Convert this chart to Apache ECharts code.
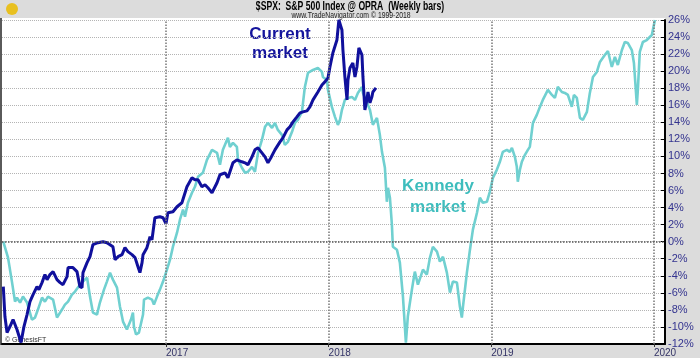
<!DOCTYPE html>
<html><head><meta charset="utf-8">
<script src="https://cdn.jsdelivr.net/npm/echarts@6/dist/echarts.min.js"></script>
<style>html,body{margin:0;padding:0;background:#dcdcdc}#c{width:700px;height:358px}</style>
</head><body><div id="c"></div>
<script>
// Tick labels
const yearTicks = [2017, 2018, 2019, 2020];
const pctTicks = [-12,-10,-8,-6,-4,-2,0,2,4,6,8,10,12,14,16,18,20,22,24,26];

// Kennedy market (teal): decimal year, % change
const kennedyYears = [2016.000,2016.029,2016.054,2016.072,2016.084,2016.103,2016.121,2016.146,2016.176,2016.195,2016.213,2016.238,2016.256,2016.275,2016.306,2016.330,2016.336,2016.361,2016.379,2016.398,2016.422,2016.441,2016.471,2016.502,2016.515,2016.533,2016.551,2016.576,2016.594,2016.619,2016.637,2016.656,2016.674,2016.699,2016.717,2016.736,2016.760,2016.785,2016.797,2016.803,2016.816,2016.834,2016.859,2016.865,2016.889,2016.914,2016.926,2016.945,2016.963,2016.982,2017.006,2017.025,2017.043,2017.068,2017.086,2017.105,2017.117,2017.135,2017.160,2017.178,2017.197,2017.227,2017.252,2017.283,2017.314,2017.332,2017.350,2017.381,2017.393,2017.412,2017.436,2017.443,2017.467,2017.486,2017.504,2017.529,2017.547,2017.566,2017.590,2017.609,2017.627,2017.652,2017.670,2017.688,2017.713,2017.731,2017.750,2017.775,2017.793,2017.811,2017.836,2017.854,2017.873,2017.904,2017.934,2017.959,2017.965,2017.990,2017.996,2018.020,2018.039,2018.057,2018.070,2018.082,2018.100,2018.119,2018.143,2018.162,2018.180,2018.205,2018.211,2018.235,2018.254,2018.272,2018.297,2018.315,2018.328,2018.340,2018.346,2018.358,2018.365,2018.377,2018.389,2018.395,2018.420,2018.438,2018.457,2018.475,2018.487,2018.512,2018.530,2018.549,2018.580,2018.604,2018.623,2018.641,2018.666,2018.684,2018.703,2018.727,2018.746,2018.764,2018.789,2018.807,2018.819,2018.826,2018.850,2018.869,2018.887,2018.912,2018.930,2018.948,2018.973,2018.991,2019.010,2019.034,2019.053,2019.071,2019.096,2019.114,2019.127,2019.145,2019.157,2019.163,2019.176,2019.188,2019.207,2019.225,2019.237,2019.256,2019.280,2019.299,2019.317,2019.348,2019.373,2019.391,2019.409,2019.434,2019.452,2019.471,2019.495,2019.508,2019.526,2019.545,2019.563,2019.588,2019.606,2019.625,2019.649,2019.668,2019.698,2019.717,2019.741,2019.760,2019.778,2019.803,2019.821,2019.840,2019.864,2019.877,2019.895,2019.901,2019.913,2019.932,2019.956,2019.987,2020.006];
const kennedyPct = [0,-1.87,-4.8,-7.03,-6.56,-7.14,-6.44,-7.14,-9.13,-8.9,-7.96,-6.56,-7.03,-6.44,-6.79,-8.9,-9.13,-7.96,-7.38,-7.03,-6.21,-5.85,-5.04,-4.45,-4.22,-6.44,-8.31,-8.55,-7.14,-5.62,-4.68,-3.63,-4.45,-5.39,-7.61,-9.37,-10.3,-9.13,-8.31,-9.95,-10.89,-10.66,-8.55,-6.79,-6.56,-6.79,-7.38,-6.44,-5.62,-4.68,-3.28,-2.11,-0.59,1.05,2.58,3.75,2.93,4.57,5.74,6.44,7.61,8.08,9.6,10.77,10.42,9.02,10.77,12.18,11.12,11.59,11.12,9.6,8.67,8.08,8.2,8.78,8.2,10.42,11.94,13.47,13.93,13.35,13.93,13.11,12.53,11.36,11.71,12.88,13.93,14.29,15.22,18.15,19.79,20.14,20.37,19.91,19.32,18.97,17.8,15.81,14.64,13.7,14.29,15.46,16.63,16.86,16.98,16.63,17.45,18.15,17.45,16.39,15.46,13.7,14.52,12.53,10.54,10.54,8.67,4.68,6.32,5.15,1.99,-0.59,-0.94,-2.46,-6.44,-11.83,-8.78,-5.62,-3.51,-5.04,-3.28,-3.86,-1.87,-0.59,-1.17,-2.34,-1.76,-3.63,-5.97,-4.68,-4.8,-7.61,-8.9,-7.61,-3.63,-0.94,1.41,3.4,5.15,4.57,4.68,5.85,7.49,8.43,9.37,10.54,10.77,10.54,11.01,9.95,8.78,7.03,8.43,9.37,10.19,10.77,11.12,13.93,14.87,15.81,16.63,17.8,17.21,16.86,18.15,17.56,17.45,17.21,15.81,17.21,16.86,14.52,14.29,15.22,17.45,19.32,19.91,21.08,21.9,22.37,20.49,21.66,20.73,22.48,23.42,23.3,22.48,20.96,16.04,17.8,22.25,23.42,23.65,24.24,26.0];

// Current market (dark blue): decimal year, % change
const currentYears = [2016.000,2016.010,2016.023,2016.041,2016.060,2016.084,2016.109,2016.127,2016.146,2016.164,2016.183,2016.207,2016.219,2016.238,2016.256,2016.269,2016.287,2016.306,2016.330,2016.349,2016.367,2016.392,2016.398,2016.428,2016.453,2016.471,2016.484,2016.490,2016.515,2016.533,2016.551,2016.582,2016.613,2016.637,2016.656,2016.674,2016.687,2016.705,2016.730,2016.748,2016.766,2016.791,2016.810,2016.828,2016.840,2016.853,2016.859,2016.883,2016.902,2016.914,2016.932,2016.963,2016.982,2017.000,2017.012,2017.043,2017.068,2017.098,2017.129,2017.160,2017.178,2017.197,2017.221,2017.240,2017.258,2017.283,2017.314,2017.332,2017.363,2017.381,2017.412,2017.436,2017.467,2017.486,2017.504,2017.529,2017.547,2017.566,2017.590,2017.609,2017.627,2017.645,2017.670,2017.682,2017.701,2017.719,2017.744,2017.762,2017.781,2017.805,2017.824,2017.842,2017.867,2017.885,2017.904,2017.934,2017.959,2017.977,2017.996,2018.008,2018.026,2018.051,2018.063,2018.082,2018.088,2018.100,2018.113,2018.119,2018.131,2018.149,2018.162,2018.174,2018.186,2018.205,2018.211,2018.223,2018.235,2018.242,2018.254,2018.266,2018.272,2018.291];
const currentPct = [-5.27,-8.78,-10.66,-9.95,-9.13,-10.3,-11.83,-9.95,-8.55,-7.03,-6.21,-5.27,-5.62,-4.8,-3.86,-4.45,-3.86,-3.51,-4.45,-4.8,-5.04,-4.1,-3.04,-3.04,-3.51,-5.27,-5.39,-3.63,-2.46,-1.76,-0.35,-0.12,0,-0.12,-0.35,-0.59,-2.11,-1.76,-1.52,-0.7,-1.17,-1.52,-1.87,-2.93,-3.63,-2.46,-1.52,-0.7,0.58,0.23,2.81,2.93,2.81,2.11,3.4,3.51,4.1,4.57,6.44,7.49,7.26,7.26,6.44,6.67,6.32,5.74,6.91,7.85,8.08,7.49,9.25,9.6,9.37,9.25,9.02,9.95,10.77,11.01,10.42,9.95,9.25,9.84,10.77,10.77,11.71,12.18,13.11,13.47,14.05,14.64,15.11,15.22,15.34,15.81,16.63,17.56,18.38,18.74,19.2,20.49,22.13,23.65,26.0,24.82,22.48,19.32,16.63,18.97,20.37,20.96,19.32,20.49,22.72,21.9,19.32,15.46,16.63,17.56,16.28,16.98,17.56,18.03];

const zip = (xs, ys) => xs.map((x, i) => [x, ys[i]]);

const chart = echarts.init(document.getElementById('c'), null, {renderer: 'canvas'});
const font = 'Arial, "Liberation Sans", sans-serif';
chart.setOption({
  backgroundColor: '#dcdcdc',
  animation: false,
  grid: {left: 2, right: 35, top: 20, bottom: 13.5, show: true, backgroundColor: '#ffffff', borderWidth: 0},
  graphic: [
    {type: 'rect', left: 2, top: 18, shape: {width: 663, height: 3}, style: {fill: '#ffffff'}, z: -1},
    {type: 'rect', left: 0, top: 18, shape: {width: 2, height: 327}, style: {fill: '#5a5a5a'}},
    {type: 'text', x: 350, y: 1, scaleX: 0.72, style: {text: '$SPX:  S&P 500 Index @ OPRA  (Weekly bars)', font: 'bold 12px ' + font, fill: '#000', align: 'center', verticalAlign: 'top'}},
    {type: 'text', x: 351, y: 11, scaleX: 0.76, style: {text: 'www.TradeNavigator.com © 1999-2018', font: '9px ' + font, fill: '#222', align: 'center', verticalAlign: 'top'}},
    {type: 'text', x: 5, y: 337, style: {text: '© GenesisFT', font: '7px ' + font, fill: '#333', verticalAlign: 'top'}},
    {type: 'circle', x: 12, y: 9, shape: {r: 6}, style: {fill: '#e8c020'}},
    {type: 'text', x: 280, y: 25, style: {text: 'Current\nmarket', font: 'bold 17px ' + font, fill: '#14149c', align: 'center', verticalAlign: 'top', lineHeight: 19}},
    {type: 'text', x: 438, y: 176, style: {text: 'Kennedy\nmarket', font: 'bold 17px ' + font, fill: '#3dbdbd', align: 'center', verticalAlign: 'top', lineHeight: 21}}
  ],
  xAxis: {
    type: 'value', min: 2015.992, max: 2020.068,
    axisLine: {show: true, onZero: false, lineStyle: {color: '#000', width: 2}},
    axisTick: {show: true, customValues: yearTicks, length: 3, lineStyle: {color: '#333'}},
    axisLabel: {customValues: yearTicks, align: 'left', margin: 4, color: '#333366', fontSize: 10, fontFamily: font, formatter: v => String(Math.round(v))},
    splitLine: {show: false}
  },
  yAxis: {
    type: 'value', position: 'right', min: -12, max: 26, interval: 2,
    axisLine: {show: true, lineStyle: {color: '#000', width: 2}},
    axisTick: {show: true, inside: true, length: 4, lineStyle: {color: '#000'}},
    axisLabel: {color: '#33338f', fontSize: 11, fontFamily: font, margin: 3, formatter: v => v + '%'},
    splitLine: {show: true, lineStyle: {color: '#b4b4b4', type: 'dotted', width: 1}}
  },
  series: [
    {
      type: 'line', name: 'Kennedy market', data: zip(kennedyYears, kennedyPct),
      showSymbol: false, lineStyle: {color: '#70d0d0', width: 2.6}, itemStyle: {color: '#70d0d0'}, z: 3,
      markLine: {
        silent: true, symbol: 'none', label: {show: false}, animation: false,
        lineStyle: {color: '#777', type: 'dotted', width: 1.5},
        data: yearTicks.map(y => ({xAxis: y})).concat([{yAxis: 0, lineStyle: {color: '#555', type: 'dotted', width: 1.5}}])
      }
    },
    {
      type: 'line', name: 'Current market', data: zip(currentYears, currentPct),
      showSymbol: false, lineStyle: {color: '#10109c', width: 3}, itemStyle: {color: '#10109c'}, z: 4
    }
  ]
});
</script></body></html>
